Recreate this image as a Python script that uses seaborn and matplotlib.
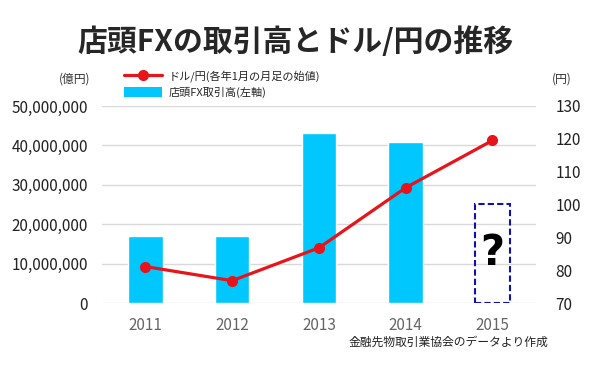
import numpy as np
import pandas as pd
import matplotlib
matplotlib.use("Agg")
import matplotlib.pyplot as plt
import seaborn as sns
from matplotlib.lines import Line2D
from matplotlib.patches import Patch

years = ["2011", "2012", "2013", "2014", "2015"]
fx_volume = [17000000, 17100000, 43200000, 40900000]   # 2011-2014 (億円)
usdjpy = [81.1, 76.8, 86.8, 105.1, 119.5]              # ドル/円 1月始値
unknown_height = 25200000                               # 2015 placeholder box

title = "店頭FXの取引高とドル/円の推移"
legend_line = "ドル/円(各年1月の月足の始値)"
legend_bar = "店頭FX取引高(左軸)"
left_unit = "(億円)"
right_unit = "(円)"
source = "金融先物取引業協会のデータより作成"

sns.set_theme(style="white")
plt.rcParams["font.family"] = ["Noto Sans CJK JP", "DejaVu Sans"]

fig = plt.figure(figsize=(6, 3.68), dpi=100)
ax = fig.add_axes([0.17, 0.1766, 0.723, 0.5354])

bar_df = pd.DataFrame({"year": years[:4], "volume": fx_volume})
sns.barplot(data=bar_df, x="year", y="volume", order=years, color="#00C8FF",
            saturation=1, width=0.4, ax=ax, zorder=2)
ax.bar([4], [unknown_height], width=0.4, fill=False, edgecolor="#1010B0",
       linestyle=(0, (3, 1.5)), linewidth=1.5, zorder=3)
ax.text(4, unknown_height / 2, "?", ha="center", va="center",
        fontsize=30, fontweight="bold", color="black", family="DejaVu Sans", zorder=4)

ax.set_xlim(-0.5, 4.5)
ax.set_ylim(0, 50000000)
ax.set_yticks(np.arange(0, 50000001, 10000000))
ax.set_yticklabels([f"{int(v):,}" for v in np.arange(0, 50000001, 10000000)])
ax.yaxis.grid(True, color="#d9d9d9", linewidth=1)
ax.set_axisbelow(True)
for s in ax.spines.values():
    s.set_visible(False)
ax.set_xlabel("")
ax.set_ylabel("")
ax.tick_params(axis="y", labelsize=11, labelcolor="#222222", length=0, pad=10)
ax.tick_params(axis="x", labelsize=11, labelcolor="#666666", length=0, pad=10)

ax2 = ax.twinx()
sns.lineplot(x=np.arange(5), y=usdjpy, ax=ax2, color="#E8141C", linewidth=2.3,
             marker="o", markersize=8, markeredgewidth=0, zorder=5)
ax2.set_ylim(70, 130)
ax2.set_yticks(np.arange(70, 131, 10))
for s in ax2.spines.values():
    s.set_visible(False)
ax2.tick_params(axis="y", labelsize=11, labelcolor="#222222", length=0, pad=14)
ax2.set_ylabel("")
ax2.set_xlim(-0.5, 4.5)

fig.text(0.493, 0.888, title, ha="center", va="center", fontsize=21.5, fontweight="bold")
fig.text(0.15, 0.785, left_unit, ha="right", va="center", fontsize=8.5, color="#333333")
fig.text(0.92, 0.785, right_unit, ha="left", va="center", fontsize=8.5, color="#333333")
fig.text(0.913, 0.07, source, ha="right", va="center", fontsize=8.5, color="#222222")

handles = [Line2D([0], [0], color="#E8141C", linewidth=2.3, marker="o", markersize=8, markeredgewidth=0),
           Patch(facecolor="#00C8FF", edgecolor="none")]
fig.legend(handles, [legend_line, legend_bar], loc="upper left",
           bbox_to_anchor=(0.207, 0.81), frameon=False, fontsize=8,
           handlelength=3.4, handleheight=0.9, labelspacing=0.45, handletextpad=0.6,
           borderaxespad=0, borderpad=0)

fig.savefig("out.png", dpi=100)
